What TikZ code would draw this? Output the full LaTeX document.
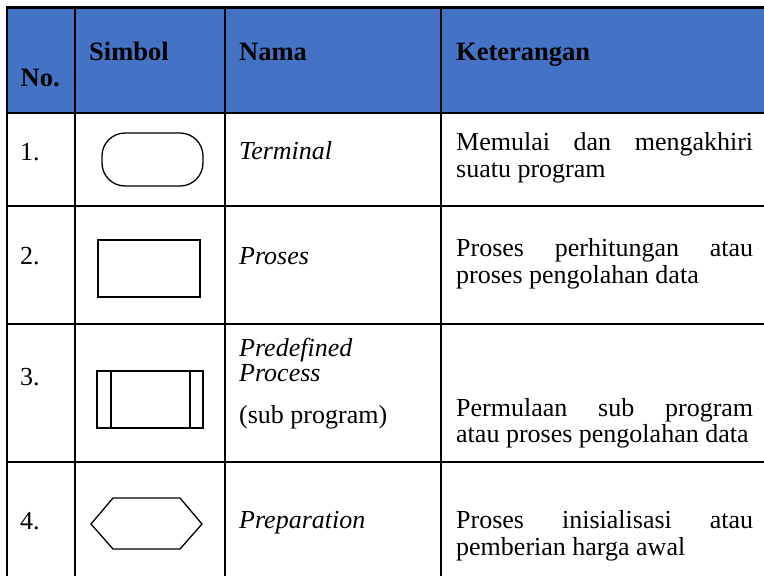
\documentclass[tikz,border=0pt]{standalone}
\usepackage{fontspec}
\setmainfont{Liberation Serif}
\definecolor{hblue}{HTML}{4472C4}
\begin{document}
\begin{tikzpicture}[x=1pt,y=-1pt,
  txt/.style={anchor=base west, inner sep=0pt, font=\fontsize{26}{28}\selectfont},
  hdr/.style={anchor=base west, inner sep=0pt, font=\fontsize{26.5}{28}\selectfont\bfseries},
  nm/.style={anchor=base west, inner sep=0pt, font=\fontsize{26}{28}\selectfont\itshape},
  gridline/.style={line width=2.2pt},
  sym/.style={draw, line width=1.3pt}]
\useasboundingbox (0,0) rectangle (764,576);
\clip (0,0) rectangle (764,576);
% header background
\fill[hblue] (7,7.5) rectangle (780,113);
% table lines
\draw[gridline] (6,7.5) -- (780,7.5);
\foreach \yy in {113,206,324,462} \draw[gridline] (6,\yy) -- (780,\yy);
\foreach \xx in {7,75,225,441} \draw[gridline] (\xx,6.5) -- (\xx,590);
% header texts
\node[hdr] (hno) at (20.5,86) {No.};
\node[hdr] (hsim) at (89,60.5) {Simbol};
\node[hdr] (hnam) at (239,60.5) {Nama};
\node[hdr] (hket) at (456,60.5) {Keterangan};
% row 1
\node[txt] (n1) at (20,160) {1.};
\draw[sym, rounded corners=23pt] (102,133) rectangle (203,186);
\node[nm] (nm1) at (239,159) {Terminal};
\node[txt] (d1a) at (456,150) {\makebox[297pt][s]{Memulai dan mengakhiri}};
\node[txt] (d1b) at (456,177) {suatu program};
% row 2
\node[txt] (n2) at (20,264) {2.};
\draw[sym] (98,240) rectangle (200,297);
\node[nm] (nm2) at (239,264) {Proses};
\node[txt] (d2a) at (456,256) {\makebox[297pt][s]{Proses perhitungan atau}};
\node[txt] (d2b) at (456,283) {proses pengolahan data};
% row 3
\node[txt] (n3) at (20,385) {3.};
\draw[sym] (97,371) rectangle (203,428);
\draw[sym] (111,371) -- (111,428);
\draw[sym] (190,371) -- (190,428);
\node[nm] (nm3a) at (239,356) {Predefined};
\node[nm] (nm3b) at (239,381) {Process};
\node[txt] (nm3c) at (239,423) {(sub program)};
\node[txt] (d3a) at (456,416) {\makebox[297pt][s]{Permulaan sub program}};
\node[txt] (d3b) at (456,442) {atau proses pengolahan data};
% row 4
\node[txt] (n4) at (20,529) {4.};
\draw[sym] (91,524) -- (113,498) -- (180,498) -- (202,524) -- (180,549) -- (113,549) -- cycle;
\node[nm] (nm4) at (239,528) {Preparation};
\node[txt] (d4a) at (456,528) {\makebox[297pt][s]{Proses inisialisasi atau}};
\node[txt] (d4b) at (456,555) {pemberian harga awal};
\end{tikzpicture}
\end{document}
